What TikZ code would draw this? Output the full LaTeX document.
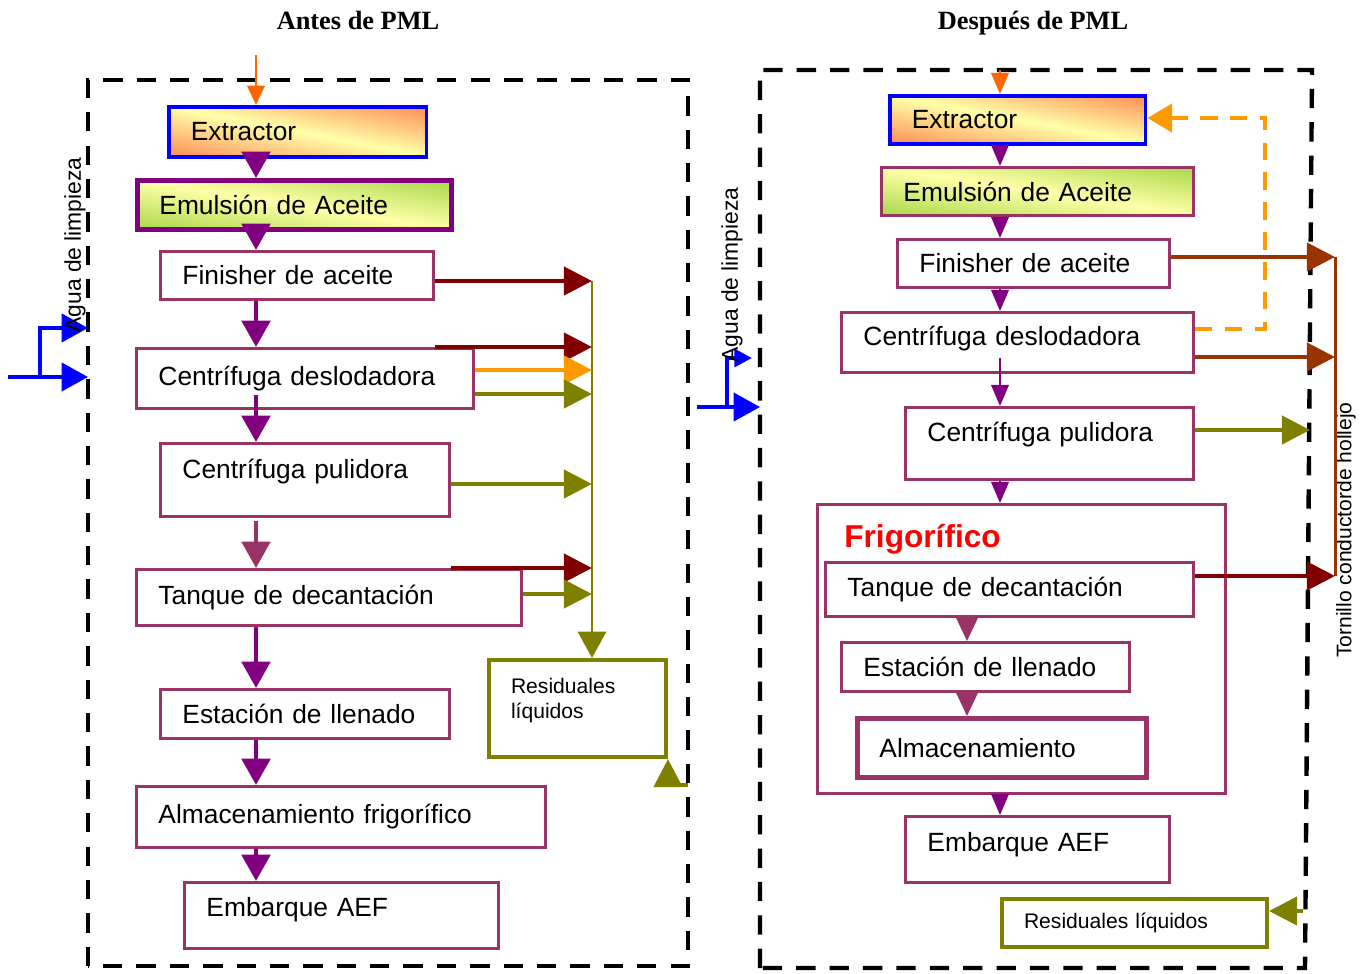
\documentclass[tikz,border=0pt]{standalone}
\usepackage{fontspec}
\setmainfont{Liberation Sans}
\newfontfamily\titfont{Liberation Serif}
\usepackage{tikz}
\usetikzlibrary{arrows.meta,calc}

\definecolor{boxc}{HTML}{993366}
\definecolor{purp}{HTML}{800080}
\definecolor{dred}{HTML}{800000}
\definecolor{brwn}{HTML}{993300}
\definecolor{oliv}{HTML}{808000}
\definecolor{orng}{HTML}{FF9900}
\definecolor{orn2}{HTML}{FF6600}
\definecolor{extO}{HTML}{FF8C55}
\definecolor{extY}{HTML}{FFFFA8}
\definecolor{emuG}{HTML}{A8D848}

% diagonal fill: #1 at the lower left and upper right corners, #2 along the other diagonal
\tikzset{grad/.style 2 args={path picture={
	\foreach \s in {0,0.05,...,1.95}{
		\pgfmathtruncatemacro\t{min(100,abs(\s+0.025-1)*100)}
		\fill [#1!\t!#2] let \p1=(path picture bounding box.south west), \p2=(path picture bounding box.north east) in
			({\x1+\s*(\x2-\x1)}, \y1) -- ({\x1+(\s+0.06)*(\x2-\x1)}, \y1) -- (\x1, {\y1+(\s+0.06)*(\y2-\y1)}) -- (\x1, {\y1+\s*(\y2-\y1)}) -- cycle;
	}}}}

\begin{document}
\begin{tikzpicture}[x=0.02cm, y=-0.02cm, font=\fontsize{15}{18}\selectfont,
	proc/.style={draw=boxc, line width=1.7pt, anchor=north west, align=left, inner xsep=0.44cm, inner ysep=0pt},
	extr/.style={proc, draw=blue, line width=2pt, grad={extO}{extY}},
	emul/.style={proc, grad={emuG}{extY}},
	resid/.style={proc, draw=oliv, line width=2.3pt, font=\fontsize{12}{14}\selectfont},
	flow/.style={purp, line width=2.8pt, -{Triangle[width=16pt,length=15pt]}},
	flowS/.style={purp, line width=1.1pt, -{Triangle[width=10pt,length=12pt]}},
	side/.style={line width=2.3pt, -{Triangle[width=16pt,length=16pt]}},
	water/.style={blue, line width=2.3pt, -{Triangle[width=16pt,length=15pt]}},
	frame/.style={line width=2.5pt, dash pattern=on 11pt off 8pt},
	vlabel/.style={rotate=90, font=\fontsize{13}{15}\selectfont}]
	\useasboundingbox (0,0) rectangle (1367,974);

	% Titles and frames
	\node [anchor=base] (tA) at (358,29) {\titfont\bfseries Antes de PML};
	\node [anchor=base] (tD) at (1033,29) {\titfont\bfseries Después de PML};
	\draw [frame] (88,966) -- (88,80) -- (688,80) -- (688,966) -- cycle;
	\draw [frame] (760,968) -- (760,70) -- (1312,70) -- (1305,968) -- cycle;

	% Nodes antes {a1, a2, ..., a10}
	\node [extr, text width=4.28cm, minimum height=1cm]   (a1)  at (167,105) {Extractor};
	\node [emul, draw=purp, line width=2.8pt, text width=5.4cm, minimum height=0.98cm] (a2) at (135,178) {Emulsión de Aceite};
	\node [proc, text width=4.58cm, minimum height=0.96cm] (a3)  at (159,250) {Finisher de aceite};
	\node [proc, text width=5.86cm, minimum height=1.2cm]  (a4)  at (135,347) {Centrífuga deslodadora};
	\node [proc, text width=4.9cm, minimum height=1.46cm, text depth=0.43cm] (a5) at (159,442) {Centrífuga pulidora};
	\node [proc, text width=6.82cm, minimum height=1.12cm] (a6)  at (135,568) {Tanque de decantación};
	\node [proc, text width=4.9cm, minimum height=0.98cm]  (a7)  at (159,688) {Estación de llenado};
	\node [proc, text width=7.3cm, minimum height=1.22cm]  (a8)  at (135,785) {Almacenamiento frigorífico};
	\node [proc, text width=5.4cm, minimum height=1.32cm, text depth=0.35cm] (a9) at (183,881) {Embarque AEF};
	\node [resid, text width=2.66cm, minimum height=1.94cm, text depth=0.91cm] (a10) at (487,658) {Residuales\\líquidos};

	% Nodes despues {d1, d2, ..., d11}
	\node [extr, text width=4.24cm, minimum height=0.96cm] (d1)  at (888,94) {Extractor};
	\node [emul, text width=5.36cm, minimum height=0.96cm] (d2)  at (880,166) {Emulsión de Aceite};
	\node [proc, text width=4.56cm, minimum height=0.96cm] (d3)  at (896,238) {Finisher de aceite};
	\node [proc, text width=6.16cm, minimum height=1.2cm, text depth=0.27cm] (d4) at (840,311) {Centrífuga deslodadora};
	\node [proc, text width=4.88cm, minimum height=1.44cm, text depth=0.47cm] (d5) at (904,406) {Centrífuga pulidora};
	\node [proc, minimum width=8.16cm, minimum height=5.78cm] (d6) at (816,503) {};
	\node [anchor=west, inner sep=0pt, text=red, font=\fontsize{18}{21}\selectfont\bfseries] (fr) at (844,539) {Frigorífico};
	\node [proc, text width=6.48cm, minimum height=1.08cm] (d7)  at (824,561) {Tanque de decantación};
	\node [proc, text width=4.88cm, minimum height=0.98cm] (d8)  at (840,641) {Estación de llenado};
	\node [proc, line width=2.8pt, text width=4.9cm, minimum height=1.18cm] (d9) at (855,716) {Almacenamiento};
	\node [proc, text width=4.4cm, minimum height=1.32cm, text depth=0.31cm] (d10) at (904,815) {Embarque AEF};
	\node [resid, text width=4.42cm, minimum height=0.96cm] (d11) at (1000,897) {Residuales líquidos};
	\node [vlabel, font=\fontsize{12}{14}\selectfont] (torn) at (1346,530) {Tornillo conductorde hollejo};

	% Coordinates
	\coordinate (axA) at (256,0);
	\coordinate (axD) at (1000,0);
	\coordinate (axE) at (967,0);
	\coordinate (inA) at (256,55);
	\coordinate (inD) at (1000,70);
	\coordinate (sA4) at (256,395);
	\coordinate (sA5) at (256,521);
	\coordinate (sD4) at (1000,358);
	\coordinate (k1) at (592,281);
	\coordinate (k2) at (592,347);
	\coordinate (k3) at (592,370);
	\coordinate (k4) at (592,394);
	\coordinate (k5) at (592,484);
	\coordinate (k6) at (592,568);
	\coordinate (k7) at (592,594);
	\coordinate (r1) at (688,785);
	\coordinate (f1) at (1265,329);
	\coordinate (f2) at (1265,118);
	\coordinate (t1) at (1335,257);
	\coordinate (t2) at (1335,357);
	\coordinate (t3) at (1335,576);
	\coordinate (o1) at (1310,430);
	\coordinate (o2) at (1303,911);
	\coordinate (wA1) at (8,377);
	\coordinate (wA2) at (88,377);
	\coordinate (wA3) at (40,377);
	\coordinate (wA4) at (88,328);
	\coordinate (wD1) at (697,407);
	\coordinate (wD2) at (760,407);
	\coordinate (wD3) at (727,407);
	\coordinate (wD4) at (752,358);

	% Paths antes
	\draw [orn2, line width=1.1pt, -{Triangle[width=10pt,length=11pt]}] (inA) -- (a1.north -| axA);
	\draw [flow] (a1.south -| axA) -- (a2.north -| axA);
	\draw [flow] (a2.south -| axA) -- (a3.north -| axA);
	\draw [flow] (a3.south -| axA) -- (a4.north -| axA);
	\draw [flow] (sA4) -- (a5.north -| axA);
	\draw [flow, boxc] (sA5) -- (a6.north -| axA);
	\draw [flow] (a6.south -| axA) -- (a7.north -| axA);
	\draw [flow] (a7.south -| axA) -- (a8.north -| axA);
	\draw [flow] (a8.south -| axA) -- (a9.north -| axA);

	\draw [oliv, line width=1.7pt, -{Triangle[width=16pt,length=15pt]}] (k1) -- (a10.north -| k1);
	\draw [side, dred] (a3.east |- k1) -- (k1);
	\draw [side, dred] (a3.east |- k2) -- (k2);
	\draw [side, orng] (a4.east |- k3) -- (k3);
	\draw [side, oliv] (a4.east |- k4) -- (k4);
	\draw [side, oliv] (a5.east |- k5) -- (k5);
	\draw [side, dred] (a5.east |- k6) -- (k6);
	\draw [side, oliv] (a6.east |- k7) -- (k7);
	\draw [side, oliv] (r1) -| (a10.south east);

	\draw [water] (wA1) -- (wA2);
	\draw [water] (wA3) |- (wA4);
	\node [vlabel] (agA) at (75,245) {Agua de limpieza};

	% Paths despues
	\draw [orn2, line width=1.1pt, -{Triangle[width=10pt,length=12pt]}] (inD) -- (d1.north -| axD);
	\draw [flowS] (d1.south -| axD) -- (d2.north -| axD);
	\draw [flowS] (d2.south -| axD) -- (d3.north -| axD);
	\draw [flowS] (d3.south -| axD) -- (d4.north -| axD);
	\draw [flowS] (sD4) -- (d5.north -| axD);
	\draw [flowS] (d5.south -| axD) -- (d6.north -| axD);
	\draw [flowS, boxc, -{Triangle[width=13pt,length=14pt]}] (d7.south -| axE) -- (d8.north -| axE);
	\draw [flowS, boxc, -{Triangle[width=13pt,length=14pt]}] (d8.south -| axE) -- (d9.north -| axE);
	\draw [flowS] (d6.south -| axD) -- (d10.north -| axD);

	\draw [orng, line width=2.3pt, dash pattern=on 10pt off 7pt, -{Triangle[width=16pt,length=14pt]}] (d4.east |- f1) -- (f1) -- (f2) -- (d1.east |- f2);
	\draw [brwn, line width=1.7pt] (t1) -- (t3);
	\draw [side, brwn] (d3.east |- t1) -- (t1);
	\draw [side, brwn] (d4.east |- t2) -- (t2);
	\draw [side, dred] (d7.east |- t3) -- (t3);
	\draw [side, oliv] (d5.east |- o1) -- (o1);
	\draw [side, oliv] (o2) -- (d11.east |- o2);

	\draw [water] (wD1) -- (wD2);
	\draw [water, -{Triangle[width=10pt,length=10pt]}] (wD3) |- (wD4);
	\node [vlabel] (agD) at (732,275) {Agua de limpieza};

\end{tikzpicture}
\end{document}
